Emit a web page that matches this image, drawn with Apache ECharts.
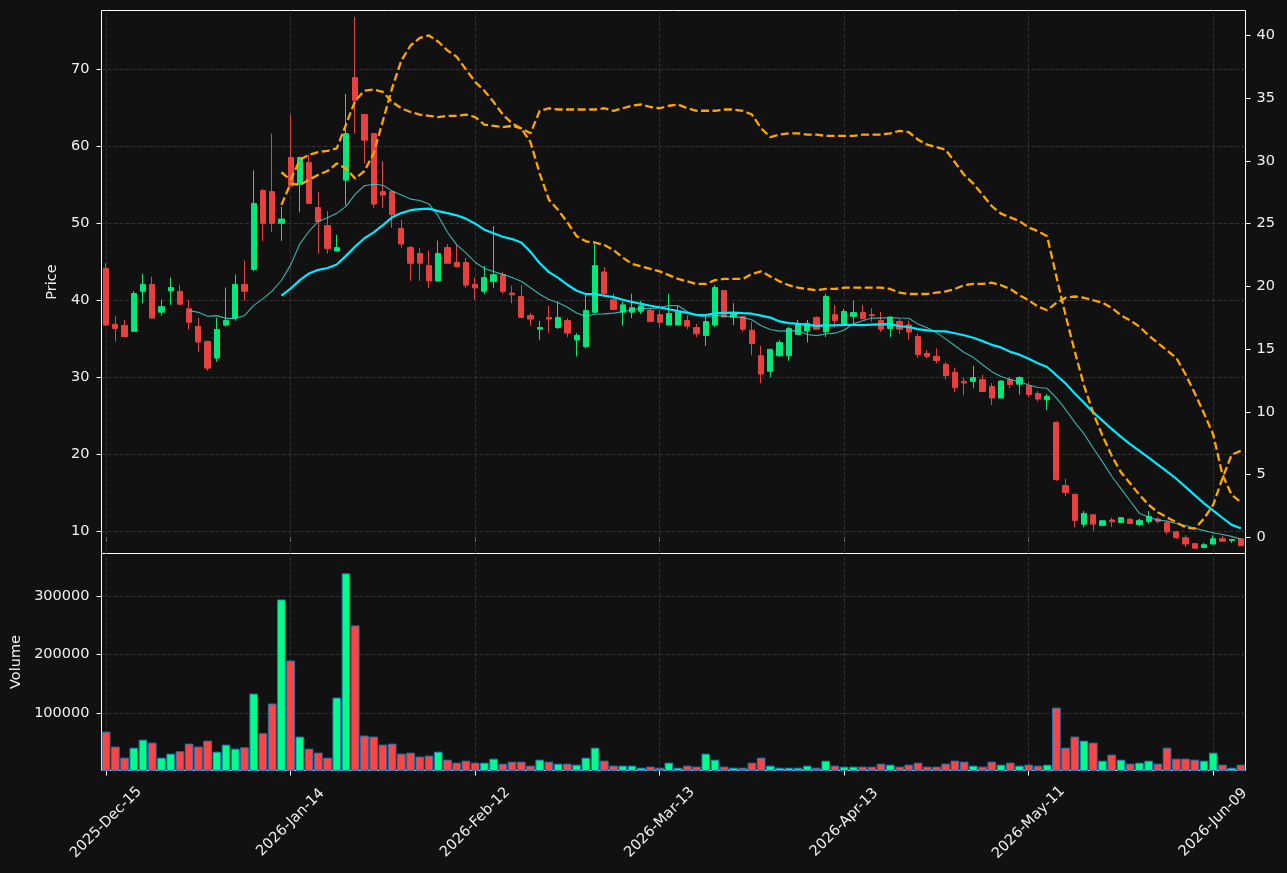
<!DOCTYPE html>
<html>
<head>
<meta charset="utf-8">
<title>Price / Volume</title>
<script src="https://cdn.jsdelivr.net/npm/echarts@6.0.0/dist/echarts.min.js"></script>
<style>
  html, body { margin: 0; padding: 0; background: #111111; }
  #chart { width: 1287px; height: 873px; }
</style>
</head>
<body>
<div id="chart"></div>
<script>
// trading days: weekdays from 2025-12-15, market holidays skipped
const startDate = '2025-12-15';
const barCount = 124;
const holidays = ['2025-12-25', '2026-01-01', '2026-01-19', '2026-02-16', '2026-04-03', '2026-05-25'];

const opens = [
  44.1, 36.82, 36.68, 35.91, 41.11, 42.01, 38.4, 41.15, 41.11, 38.85,
  36.55, 34.6, 32.44, 36.73, 37.63, 42.01, 43.95, 54.2, 54.06, 49.95,
  58.49, 55.01, 57.86, 51.99, 49.64, 46.34, 55.55, 68.87, 64.09, 61.6,
  54.06, 54.06, 49.28, 46.79, 46.03, 44.45, 42.46, 46.79, 44.85, 44.85,
  42.01, 41.11, 42.37, 43.27, 40.88, 40.43, 37.95, 36.19, 37.72, 36.41,
  37.31, 34.79, 33.93, 38.4, 43.63, 40.02, 38.4, 38.4, 38.53, 38.62,
  38.08, 36.73, 36.73, 37.31, 36.41, 35.37, 36.73, 41.2, 37.77, 37.86,
  36.05, 32.75, 30.72, 32.75, 32.75, 35.51, 35.96, 37.72, 35.82, 38.08,
  36.82, 37.86, 38.35, 38.08, 37.31, 36.28, 37.18, 36.73, 35.24, 33.03,
  32.66, 31.63, 30.59, 29.41, 29.41, 29.64, 28.74, 27.25, 29.64, 29.05,
  28.83, 27.83, 27.02, 24.09, 15.87, 14.74, 10.86, 12.08, 10.68, 11.4,
  11.08, 11.49, 10.81, 11.22, 11.53, 11.04, 9.86, 9.1, 8.33, 7.83,
  8.28, 8.96, 8.74, 8.96
];
const closes = [
  36.73, 36.28, 35.24, 40.83, 42.01, 37.63, 39.12, 41.6, 39.44, 37.09,
  34.51, 31.13, 36.14, 37.31, 42.01, 41.11, 52.53, 49.95, 49.95, 50.5,
  54.79, 58.49, 52.53, 50.18, 46.66, 46.79, 61.6, 65.94, 60.74, 52.44,
  53.61, 51.08, 47.25, 44.76, 44.76, 42.46, 46.03, 44.76, 44.31, 41.92,
  41.56, 42.9, 43.27, 41.11, 40.65, 37.72, 37.5, 36.41, 37.5, 37.72,
  35.69, 35.37, 38.62, 44.45, 40.79, 38.76, 39.35, 38.98, 39.21, 37.18,
  37.09, 38.22, 38.4, 36.59, 35.6, 37.18, 41.6, 37.77, 38.31, 36.19,
  34.33, 30.36, 33.57, 34.47, 36.28, 36.86, 36.95, 36.19, 40.43, 37.31,
  38.49, 38.35, 37.54, 37.95, 36.19, 37.77, 36.19, 35.82, 32.89, 32.66,
  32.12, 30.18, 28.6, 29.19, 29.91, 28.1, 27.25, 29.46, 29.01, 29.91,
  27.7, 27.11, 27.47, 16.64, 14.97, 11.35, 12.26, 10.86, 11.31, 11.17,
  11.71, 10.95, 11.35, 11.85, 11.22, 9.86, 9.1, 8.28, 7.74, 8.19,
  8.96, 8.65, 8.87, 8.06
];
const lows = [
  36.6, 34.56, 35.1, 35.9, 39.57, 37.6, 37.95, 39.35, 39.3, 36.14,
  33.25, 30.77, 31.94, 36.5, 37.27, 39.89, 43.72, 47.65, 48.83, 47.65,
  54.7, 51.4, 52.5, 45.98, 45.98, 46.3, 52.3, 61.56, 57.72, 51.94,
  51.94, 49.37, 46.75, 42.46, 42.46, 41.56, 42.4, 44.7, 44.18, 41.56,
  40.02, 40.79, 41.56, 40.79, 39.57, 37.6, 36.64, 34.79, 35.69, 36.19,
  35.15, 32.62, 33.7, 38.3, 40.47, 38.7, 36.64, 37.63, 38.17, 37.1,
  36.41, 36.7, 36.7, 36.19, 35.15, 34.02, 36.5, 37.7, 36.73, 35.82,
  32.8, 29.19, 29.95, 32.57, 32.08, 35.5, 34.47, 36.19, 35.15, 36.41,
  36.8, 36.95, 37.5, 37.18, 35.82, 35.15, 35.6, 34.83, 32.44, 32.44,
  31.76, 29.64, 28.01, 27.61, 28.51, 28.06, 26.34, 27.25, 28.51, 27.7,
  27.38, 26.79, 25.67, 16.5, 14.51, 10.45, 10.45, 10.0, 10.68, 10.5,
  11.08, 10.95, 10.59, 10.9, 10.95, 9.55, 8.96, 7.88, 7.7, 7.83,
  8.28, 8.65, 8.42, 8.06
];
const highs = [
  44.76, 37.9, 37.4, 41.15, 43.41, 43.0, 40.02, 42.9, 41.96, 40.02,
  37.67, 34.7, 37.67, 41.6, 43.27, 45.12, 56.82, 54.42, 61.6, 52.08,
  64.04, 58.62, 58.9, 54.06, 51.53, 48.46, 66.75, 76.77, 64.1, 61.6,
  58.04, 54.06, 50.41, 47.02, 46.75, 46.43, 47.7, 47.25, 47.25, 45.44,
  42.9, 44.4, 49.59, 43.63, 41.83, 41.92, 38.31, 37.27, 39.21, 39.8,
  37.63, 35.69, 40.65, 47.25, 44.27, 40.79, 39.75, 40.79, 39.89, 38.98,
  38.67, 40.79, 39.21, 37.99, 36.86, 37.86, 41.92, 41.2, 39.57, 37.9,
  37.18, 34.02, 33.6, 34.79, 36.5, 37.4, 37.4, 37.86, 40.79, 39.35,
  38.85, 39.89, 39.35, 38.89, 38.44, 37.8, 37.54, 37.27, 35.6, 33.48,
  33.7, 31.9, 31.17, 29.95, 31.44, 30.27, 29.19, 29.5, 29.95, 30.09,
  29.37, 28.15, 27.79, 24.2, 16.77, 14.74, 12.57, 12.1, 11.31, 11.71,
  11.76, 11.67, 11.58, 12.57, 11.76, 11.22, 9.95, 9.41, 8.42, 8.42,
  9.41, 9.32, 8.96, 9.05
];
const volumes = [
  68400, 42800, 23900, 41000, 54700, 49600, 23900, 30800, 34800, 47900,
  42800, 53000, 34200, 46200, 39300, 41600, 133400, 65600, 116300, 294100,
  189800, 59900, 39300, 32500, 23900, 126500, 338600, 249700, 61600, 59900,
  46200, 47900, 30800, 32500, 25700, 27400, 34200, 20500, 15400, 18800,
  15400, 15400, 22200, 13700, 17100, 17100, 10300, 20500, 17100, 13700,
  13700, 12000, 23900, 41000, 18800, 10300, 10300, 10300, 6800, 8600,
  6800, 15400, 6800, 10300, 8600, 30800, 20500, 8600, 6800, 6800,
  15400, 23900, 10300, 6800, 6800, 6800, 10300, 6800, 18800, 10300,
  8600, 8600, 8600, 8600, 13700, 12000, 8600, 12000, 15400, 8600,
  8600, 13700, 18800, 17100, 10300, 8600, 17100, 12000, 15400, 10300,
  12000, 10300, 12000, 109400, 41000, 59900, 53000, 49600, 18800, 29100,
  20500, 13700, 15400, 18800, 13700, 41000, 22200, 22200, 20500, 18800,
  32500, 12000, 6800, 12000
];
// the two dashed indicator lines on the right-hand axis
const indicatorA = [
  null, null, null, null, null, null, null, null, null, null,
  null, null, null, null, null, null, null, null, null, 26.5,
  28.2, 28.1, 28.5, 28.9, 29.2, 29.8, 29.4, 28.6, 29.2, 30.6,
  33.2, 35.8, 38.0, 39.2, 39.8, 40.0, 39.5, 38.8, 38.3, 37.3,
  36.3, 35.6, 34.7, 33.7, 33.0, 32.6, 31.5, 29.0, 26.9, 26.1,
  25.1, 24.0, 23.6, 23.5, 23.3, 22.9, 22.3, 21.8, 21.6, 21.4,
  21.2, 20.9, 20.6, 20.4, 20.2, 20.2, 20.5, 20.6, 20.6, 20.6,
  21.0, 21.2, 20.8, 20.4, 20.1, 19.9, 19.8, 19.7, 19.8, 19.8,
  19.9, 19.9, 19.9, 19.9, 19.9, 19.8, 19.5, 19.4, 19.4, 19.4,
  19.5, 19.6, 19.8, 20.1, 20.2, 20.2, 20.3, 20.1, 19.8, 19.3,
  18.9, 18.4, 18.1, 18.7, 19.1, 19.2, 19.1, 18.9, 18.7, 18.3,
  17.7, 17.3, 16.8, 16.1, 15.5, 14.9, 14.3, 13.0, 11.5, 9.9,
  8.2, 5.0, 3.4, 2.8
];
const indicatorB = [
  null, null, null, null, null, null, null, null, null, null,
  null, null, null, null, null, null, null, null, null, 29.1,
  28.5, 30.1, 30.5, 30.7, 30.8, 31.0, 32.9, 34.8, 35.6, 35.7,
  35.5, 34.7, 34.2, 33.9, 33.7, 33.6, 33.5, 33.6, 33.6, 33.7,
  33.5, 32.9, 32.8, 32.7, 32.8, 32.6, 32.2, 34.0, 34.2, 34.1,
  34.1, 34.1, 34.1, 34.1, 34.2, 34.0, 34.2, 34.4, 34.5, 34.3,
  34.2, 34.4, 34.5, 34.2, 34.0, 34.0, 34.0, 34.1, 34.1, 34.0,
  33.7, 32.6, 31.9, 32.1, 32.2, 32.2, 32.1, 32.1, 32.0, 32.0,
  32.0, 32.0, 32.1, 32.1, 32.1, 32.2, 32.4, 32.3, 31.7, 31.3,
  31.1, 30.9, 29.9, 28.9, 28.2, 27.3, 26.4, 25.8, 25.5, 25.2,
  24.7, 24.4, 24.0, 20.8, 17.7, 14.8, 12.1, 9.9, 8.1, 6.5,
  5.2, 4.3, 3.4, 2.6, 2.0, 1.6, 1.2, 0.8, 0.7, 1.5,
  2.6, 4.7, 6.6, 6.9
];

const labelEvery = 20;
const upColor = '#02e67b';
const downColor = '#e8403f';
const volUp = '#00ff88';
const volDown = '#ff4444';
const textColor = '#f2f2f2';
const gridColor = '#3a3a3a';
const font = 'DejaVu Sans';

const MONTHS = ['Jan', 'Feb', 'Mar', 'Apr', 'May', 'Jun', 'Jul', 'Aug', 'Sep', 'Oct', 'Nov', 'Dec'];

function tradingDays(start, n) {
  const out = [];
  const d = new Date(start + 'T00:00:00Z');
  while (out.length < n) {
    const iso = d.toISOString().slice(0, 10);
    const wd = d.getUTCDay();
    if (wd !== 0 && wd !== 6 && holidays.indexOf(iso) < 0) {
      const dd = String(d.getUTCDate()).padStart(2, '0');
      out.push(d.getUTCFullYear() + '-' + MONTHS[d.getUTCMonth()] + '-' + dd);
    }
    d.setUTCDate(d.getUTCDate() + 1);
  }
  return out;
}

function movingAverage(values, n) {
  return values.map((v, i) => {
    if (i < n - 1) return null;
    let s = 0;
    for (let k = i - n + 1; k <= i; k++) s += values[k];
    return +(s / n).toFixed(3);
  });
}

const dates = tradingDays(startDate, barCount);
const candles = dates.map((d, i) => [opens[i], closes[i], lows[i], highs[i]]);
const ma10 = movingAverage(closes, 10);
const ma20 = movingAverage(closes, 20);
const volumeBars = volumes.map((v, i) => ({
  value: v,
  itemStyle: { color: closes[i] >= opens[i] ? volUp : volDown }
}));
const tickDates = dates.filter((d, i) => i % labelEvery === 0);

// dashed vertical grid at the labelled dates, kept under the marks
const vGrid = {
  silent: true,
  z: 1,
  symbol: ['none', 'none'],
  label: { show: false },
  emphasis: { disabled: true },
  lineStyle: { color: gridColor, type: [4, 2], width: 0.8 },
  data: tickDates.map(d => ({ xAxis: d }))
};

const hGrid = {
  show: true,
  showMinLine: false,
  showMaxLine: false,
  lineStyle: { color: gridColor, type: [4, 2], width: 0.8 }
};

const chart = echarts.init(document.getElementById('chart'));

const axisLabelStyle = { color: textColor, fontSize: 14.5, fontFamily: font };

const option = {
  backgroundColor: '#111111',
  animation: false,
  textStyle: { fontFamily: font },
  grid: [
    { left: 101.5, top: 10.5, width: 1144, height: 543, show: true, borderColor: '#ffffff', borderWidth: 1, backgroundColor: 'transparent' },
    { left: 101.5, top: 553.5, width: 1144, height: 217, show: true, borderColor: '#ffffff', borderWidth: 1, backgroundColor: 'transparent' }
  ],
  xAxis: [
    {
      type: 'category',
      gridIndex: 0,
      data: dates,
      boundaryGap: true,
      axisLine: { show: false },
      axisTick: { show: true, alignWithLabel: true, interval: labelEvery - 1, length: 4, lineStyle: { color: '#ffffff' } },
      axisLabel: { show: false },
      splitLine: { show: false }
    },
    {
      type: 'category',
      gridIndex: 1,
      data: dates,
      boundaryGap: true,
      axisLine: { show: false },
      axisTick: { show: true, alignWithLabel: true, interval: labelEvery - 1, length: 5, lineStyle: { color: '#ffffff' } },
      axisLabel: Object.assign({}, axisLabelStyle, {
        interval: labelEvery - 1,
        rotate: 45,
        align: 'center',
        verticalAlign: 'middle',
        margin: 52
      }),
      splitLine: { show: false }
    }
  ],
  yAxis: [
    {
      type: 'value',
      gridIndex: 0,
      position: 'left',
      min: 7.05,
      max: 77.59,
      splitNumber: 7,
      name: 'Price',
      nameLocation: 'middle',
      nameGap: 32,
      nameTextStyle: { color: textColor, fontSize: 14.5, fontFamily: font },
      axisLine: { show: false },
      axisTick: { show: true, length: 5, lineStyle: { color: '#ffffff' } },
      axisLabel: Object.assign({}, axisLabelStyle, { margin: 12, showMinLabel: false, showMaxLabel: false }),
      splitLine: hGrid
    },
    {
      type: 'value',
      gridIndex: 0,
      position: 'right',
      min: -1.28,
      max: 41.99,
      splitNumber: 8,
      axisLine: { show: false },
      axisTick: { show: true, length: 5, lineStyle: { color: '#ffffff' } },
      axisLabel: Object.assign({}, axisLabelStyle, { margin: 11, showMinLabel: false, showMaxLabel: false }),
      splitLine: { show: false }
    },
    {
      type: 'value',
      gridIndex: 1,
      position: 'left',
      min: 2000,
      max: 372500,
      splitNumber: 4,
      name: 'Volume',
      nameLocation: 'middle',
      nameGap: 77,
      nameTextStyle: { color: textColor, fontSize: 14.5, fontFamily: font },
      axisLine: { show: false },
      axisTick: { show: true, length: 5, lineStyle: { color: '#ffffff' } },
      axisLabel: Object.assign({}, axisLabelStyle, {
        margin: 12, showMinLabel: false, showMaxLabel: false,
        formatter: v => String(v)
      }),
      splitLine: hGrid
    }
  ],
  series: [
    {
      name: 'OHLC',
      type: 'candlestick',
      xAxisIndex: 0,
      yAxisIndex: 0,
      data: candles,
      barWidth: '62%',
      itemStyle: {
        color: upColor,
        color0: downColor,
        borderColor: upColor,
        borderColor0: downColor,
        borderWidth: 1
      },
      markLine: vGrid
    },
    {
      name: 'MA10',
      type: 'line',
      xAxisIndex: 0,
      yAxisIndex: 0,
      data: ma10,
      symbol: 'none',
      lineStyle: { color: '#3fd0c8', width: 1.1, opacity: 0.85 }
    },
    {
      name: 'MA20',
      type: 'line',
      xAxisIndex: 0,
      yAxisIndex: 0,
      data: ma20,
      symbol: 'none',
      lineStyle: { color: '#00eaff', width: 2.2 }
    },
    {
      name: 'Indicator A',
      type: 'line',
      xAxisIndex: 0,
      yAxisIndex: 1,
      data: indicatorA,
      symbol: 'none',
      lineStyle: { color: '#ffa500', width: 2.3, type: [8, 3.5] }
    },
    {
      name: 'Indicator B',
      type: 'line',
      xAxisIndex: 0,
      yAxisIndex: 1,
      data: indicatorB,
      symbol: 'none',
      lineStyle: { color: '#ffa500', width: 2.3, type: [8, 3.5] }
    },
    {
      name: 'Volume',
      type: 'bar',
      xAxisIndex: 1,
      yAxisIndex: 2,
      data: volumeBars,
      barWidth: '94%',
      itemStyle: { borderColor: '#1f77b4', borderWidth: 1 },
      markLine: vGrid
    }
  ]
};

chart.setOption(option);
</script>
</body>
</html>
